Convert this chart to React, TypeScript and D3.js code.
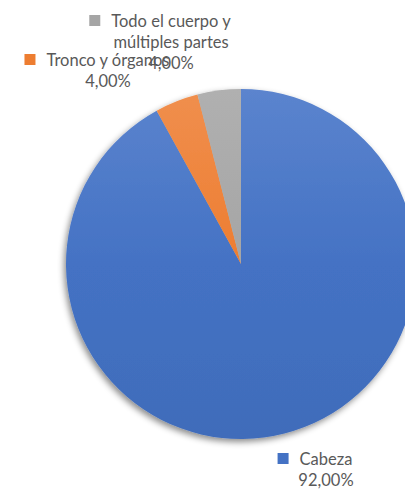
import React, { useEffect, useRef } from "react";
import * as d3 from "d3";

const categories = ["Cabeza", "Tronco y órganos", "Todo el cuerpo y múltiples partes"];
const values = [92, 4, 4];
const colors = ["#4472C4", "#ED7D31", "#A5A5A5"];
const lightColors = ["#5B84CE", "#F08F4E", "#B0B0B0"];
// label lines (category text wrapped as in the reference)
const labelLines = [["Cabeza"], ["Tronco y órganos"], ["Todo el cuerpo y", "múltiples partes"]];
// label anchor centers (x) and first baseline (y)
const labelPos = [
  { x: 326, y: 465 },
  { x: 108, y: 66 },
  { x: 171, y: 27 },
];

const W = 405;
const H = 491;
const cx = 241;
const cy = 264;
const R = 175;
const FONT = "Lato, 'Liberation Sans', sans-serif";
const FS = 16.5;
const LH = 21;

export default function App() {
  const ref = useRef<SVGSVGElement | null>(null);
  useEffect(() => {
    document.body.style.margin = "0";
    const svg = d3.select(ref.current);
    svg.selectAll("*").remove();
    const defs = svg.append("defs");
    const f = defs.append("filter").attr("id", "sh").attr("x", "-20%").attr("y", "-20%").attr("width", "140%").attr("height", "140%");
    f.append("feDropShadow").attr("dx", -2).attr("dy", 3).attr("stdDeviation", 3).attr("flood-color", "#000").attr("flood-opacity", 0.45);
    colors.forEach((c, i) => {
      const g = defs.append("linearGradient").attr("id", "g" + i).attr("gradientUnits", "userSpaceOnUse")
        .attr("x1", 0).attr("y1", -R).attr("x2", 0).attr("y2", R);
      g.append("stop").attr("offset", "0%").attr("stop-color", lightColors[i]);
      g.append("stop").attr("offset", "50%").attr("stop-color", c);
      g.append("stop").attr("offset", "100%").attr("stop-color", d3.color(c)!.darker(0.15).toString());
    });

    const data = categories.map((c, i) => ({ c, v: values[i], i }));
    const pie = d3.pie<any>().sort(null).value((d: any) => d.v);
    const arc = d3.arc<any>().innerRadius(0).outerRadius(R);
    const g = svg.append("g").attr("transform", `translate(${cx},${cy})`);
    const gs = g.append("g").attr("filter", "url(#sh)");
    gs.selectAll("path").data(pie(data)).join("path")
      .attr("d", arc as any)
      .attr("fill", (d: any) => `url(#g${d.data.i})`);

    const fmt = (v: number) => v.toFixed(2).replace(".", ",") + "%";
    const lg = svg.append("g");
    data.forEach((d, i) => {
      const p = labelPos[i];
      const lines = [...labelLines[i], fmt(d.v)];
      let firstW = 0;
      lines.forEach((t, k) => {
        const tx = lg.append("text").attr("x", p.x).attr("y", p.y + k * LH)
          .attr("text-anchor", "middle").attr("font-family", FONT).attr("font-size", FS)
          .attr("fill", "#595959").text(t);
        if (k === 0) firstW = (tx.node() as SVGTextElement).getComputedTextLength();
      });
      lg.append("rect").attr("x", p.x - firstW / 2 - 11 - 11).attr("y", p.y - 12).attr("width", 11).attr("height", 11)
        .attr("fill", colors[i]);
    });
  }, []);
  return <svg ref={ref} width={W} height={H} style={{ display: "block", background: "#fff" }} />;
}
